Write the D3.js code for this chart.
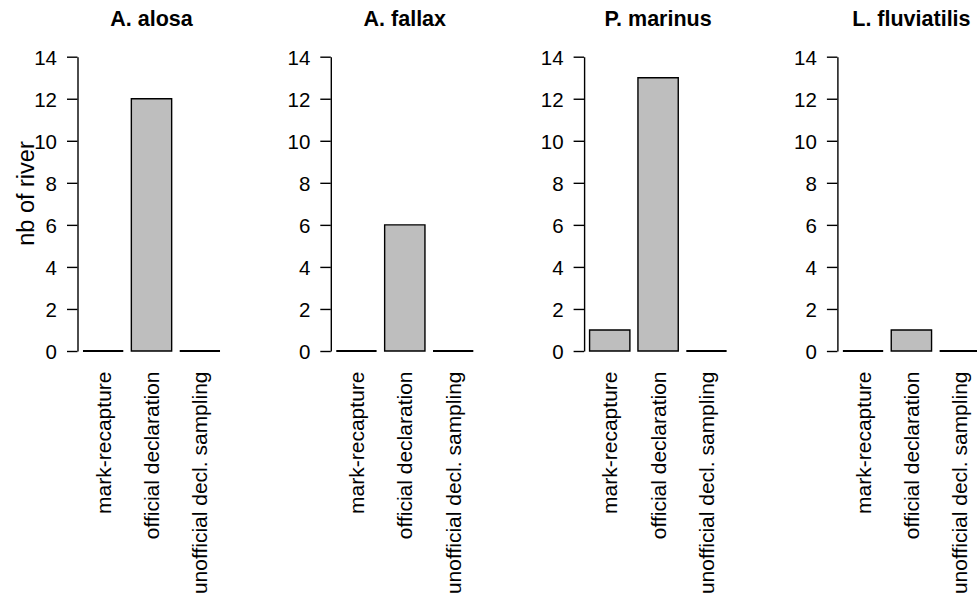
<!DOCTYPE html>
<html>
<head>
<meta charset="utf-8">
<script src="https://cdn.jsdelivr.net/npm/d3@7"></script>
<style>
  html, body { margin: 0; padding: 0; background: #fff; }
  svg { display: block; }
  text { font-family: "Liberation Sans", Arial, Helvetica, sans-serif; fill: #000; }
</style>
</head>
<body>
<svg id="chart" width="977" height="606"></svg>
<script>
// ---- data ----
const species = ["A. alosa", "A. fallax", "P. marinus", "L. fluviatilis"];
const methods = ["mark-recapture", "official declaration", "unofficial decl. sampling"];
const alosaValues = [0, 12, 0];
const fallaxValues = [0, 6, 0];
const marinusValues = [1, 13, 0];
const fluviatilisValues = [0, 1, 0];
const yTicks = [0, 2, 4, 6, 8, 10, 12, 14];
const yLabel = "nb of river";

const seriesValues = [alosaValues, fallaxValues, marinusValues, fluviatilisValues];

// ---- layout ----
const svg = d3.select("#chart");
const panelW = 253.3;
const plotL = 77.5, plotR = 225.5;
const yTop = 56.7, yBot = 351;
const barSpace = 0.2, barW = 1;
const fsTick = 20.5;
const fsCat = 21;

species.forEach((sp, i) => {
  const ox = i * panelW;
  const g = svg.append("g").attr("transform", `translate(${ox},0)`);
  const vals = seriesValues[i];
  const n = vals.length;
  const xmin = barSpace, xmax = n * (barW + barSpace);
  const pad = 0.04 * (xmax - xmin);
  const x = d3.scaleLinear().domain([xmin - pad, xmax + pad]).range([plotL, plotR]);
  const y = d3.scaleLinear().domain([0, 14]).range([yBot, yTop]);

  const bars = vals.map((v, k) => ({
    x0: barSpace + k * (barW + barSpace),
    x1: barSpace + k * (barW + barSpace) + barW,
    v: v
  }));

  g.selectAll("path.bar").data(bars).enter().append("path")
    .attr("class", "bar")
    .attr("d", d => {
      const a = x(d.x0), b = x(d.x1), t = y(d.v), z = y(0);
      return `M${a},${z}H${b}V${t}H${a}Z`;
    })
    .attr("fill", "#bebebe")
    .attr("stroke", "#000")
    .attr("stroke-width", d => d.v === 0 ? 2.2 : 1.4);

  // y axis
  const ax = g.append("g")
    .attr("transform", `translate(${plotL},0)`)
    .call(d3.axisLeft(y).tickValues(yTicks).tickFormat(d3.format("d")).tickSize(10.5).tickPadding(10).tickSizeOuter(0));
  ax.select(".domain").attr("stroke", "#000").attr("stroke-width", 1.4);
  ax.selectAll(".tick line").attr("stroke", "#000").attr("stroke-width", 1.4);
  ax.selectAll(".tick text")
    .style("font-family", '"Liberation Sans", Arial, sans-serif')
    .style("font-size", fsTick + "px")
    .attr("fill", "#000")
    .attr("dy", "0.37em");

  // category labels (rotated)
  g.selectAll("text.cat").data(bars).enter().append("text")
    .attr("class", "cat")
    .attr("transform", d => `translate(${x((d.x0 + d.x1) / 2)},371.5) rotate(-90)`)
    .attr("text-anchor", "end")
    .attr("dy", "0.36em")
    .style("font-size", fsCat + "px")
    .text((d, k) => methods[k]);

  // title
  g.append("text")
    .attr("x", (plotL + plotR) / 2)
    .attr("y", 26)
    .attr("text-anchor", "middle")
    .style("font-size", "21.5px")
    .style("font-weight", "bold")
    .text(sp);

  if (i === 0) {
    g.append("text")
      .attr("transform", `translate(34,193.5) rotate(-90)`)
      .attr("text-anchor", "middle")
      .style("font-size", "23.5px")
      .text(yLabel);
  }
});
</script>
</body>
</html>
